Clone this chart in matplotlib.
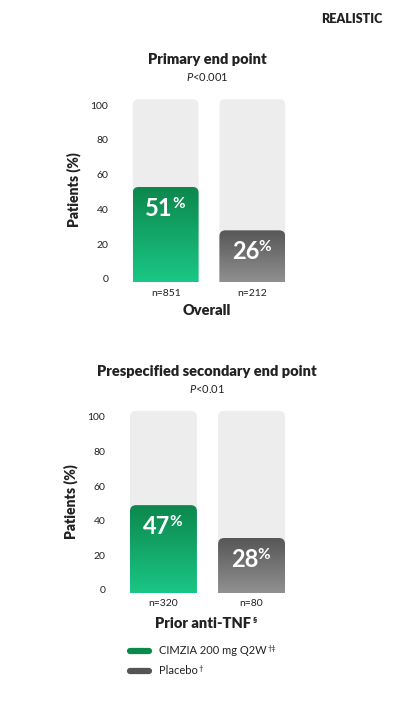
import matplotlib.pyplot as plt
import numpy as np
from matplotlib.patches import FancyBboxPatch
from matplotlib.lines import Line2D

plt.rcParams['font.family'] = ['Lato', 'DejaVu Sans']
plt.rcParams['mathtext.fontset'] = 'custom'
plt.rcParams['mathtext.it'] = 'Lato:italic'
plt.rcParams['mathtext.rm'] = 'Lato'

# Data
groups = ['CIMZIA 200 mg Q2W', 'Placebo']
overall_values = [51, 26]
overall_n = ['n=851', 'n=212']
prior_values = [47, 28]
prior_n = ['n=320', 'n=80']
yticks = [0, 20, 40, 60, 80, 100]

W, H = 394, 701
fig = plt.figure(figsize=(W / 100, H / 100), dpi=100)
fig.patch.set_facecolor('white')

green_top, green_bot = np.array([0.05, 0.53, 0.30]), np.array([0.11, 0.82, 0.56])
grey_top, grey_bot = np.array([0.34, 0.34, 0.34]), np.array([0.63, 0.63, 0.63])
bar_colors = [(green_top, green_bot), (grey_top, grey_bot)]
txt = '#222222'


def fy(y):
    return 1 - y / H


def fx(x):
    return x / W


def sup_after(t, s, size, dy):
    # put a small superscript right after an existing text
    fig.canvas.draw()
    bb = t.get_window_extent()
    fig.text(bb.x1 / W + 0.003, bb.y1 / H - dy / H, s, ha='left', va='top',
             fontsize=size, color=txt, fontweight=t.get_fontweight())


def draw_panel(rect, values, ns):
    ax = fig.add_axes(rect)
    xlim = (-0.55, 1.55)
    ylim = (-1.5, 104)
    px_x = rect[2] * W / (xlim[1] - xlim[0])
    px_y = rect[3] * H / (ylim[1] - ylim[0])
    aspect = px_x / px_y
    width = 0.76
    for i, v in enumerate(values):
        bg = FancyBboxPatch((i - width / 2, -10), width, 113.5,
                            boxstyle='round,pad=0,rounding_size=0.07',
                            mutation_aspect=aspect, fc='#ededed', ec='none', zorder=1)
        ax.add_patch(bg)
        clip = FancyBboxPatch((i - width / 2, -10), width, v + 12,
                              boxstyle='round,pad=0,rounding_size=0.07',
                              mutation_aspect=aspect, fc='none', ec='none')
        ax.add_patch(clip)
        top, bot = bar_colors[i]
        t = np.linspace(0, 1, 100)[:, None, None]
        grad = top[None, None, :] * (1 - t) + bot[None, None, :] * t
        im = ax.imshow(grad, extent=(i - width / 2, i + width / 2, -10, v + 2),
                       aspect='auto', origin='upper', zorder=2, interpolation='bilinear')
        im.set_clip_path(clip)
        ax.annotate(f'{v}', (i, v), xytext=(5, -13), textcoords='offset points',
                    ha='right', va='center', color='white', fontsize=17,
                    fontweight='bold', zorder=3)
        ax.annotate('%', (i, v), xytext=(4.5, -9.5), textcoords='offset points',
                    ha='left', va='center', color='white', fontsize=11,
                    fontweight='bold', zorder=3)
    ax.set_xlim(*xlim)
    ax.set_ylim(*ylim)
    ax.set_yticks(yticks)
    ax.set_yticklabels([str(v) for v in yticks], fontsize=7.5, color=txt)
    ax.set_xticks(range(len(ns)))
    ax.set_xticklabels(ns, fontsize=7.5, color=txt)
    ax.tick_params(length=0, pad=7)
    ax.tick_params(axis='x', pad=5)
    for s in ax.spines.values():
        s.set_visible(False)
    ax.set_ylabel('Patients (%)', fontsize=10, fontweight='heavy', color=txt, labelpad=7)
    return ax


# Top panel
ax1 = draw_panel([fx(118), fy(281.6), fx(300) - fx(118), fy(98.3) - fy(281.6)],
                 overall_values, overall_n)
fig.text(fx(207), fy(60), 'Primary end point', ha='center', va='center',
         fontsize=10.5, fontweight='heavy', color=txt)
fig.text(fx(207), fy(77), r'$\it{P}$<0.001', ha='center', va='center',
         fontsize=8, color=txt)
fig.text(fx(207), fy(311), 'Overall', ha='center', va='center',
         fontsize=10.5, fontweight='heavy', color=txt)

# Bottom panel
ax2 = draw_panel([fx(115), fy(592.5), fx(300) - fx(115), fy(410) - fy(592.5)],
                 prior_values, prior_n)
fig.text(fx(207), fy(372), 'Prespecified secondary end point', ha='center', va='center',
         fontsize=10.5, fontweight='heavy', color=txt)
fig.text(fx(207), fy(389), r'$\it{P}$<0.01', ha='center', va='center',
         fontsize=8, color=txt)
tnf = fig.text(fx(203), fy(623), 'Prior anti-TNF', ha='center', va='center',
               fontsize=10.5, fontweight='heavy', color=txt)
sup_after(tnf, '§', 6, 0)

# Legend
legend_items = [(groups[0], '†‡', '#0a8a4a', 651), (groups[1], '†', '#555555', 671)]
for label, sup, col, y in legend_items:
    fig.add_artist(Line2D([fx(130), fx(149)], [fy(y), fy(y)], lw=4.5, color=col,
                          solid_capstyle='round'))
    t = fig.text(fx(159), fy(y), label, ha='left', va='center', fontsize=8, color=txt)
    sup_after(t, sup, 5.5, 0)

fig.text(fx(352), fy(19), 'REALISTIC', ha='center', va='center', fontsize=9,
         fontweight='heavy', color=txt)

fig.savefig('out.png', dpi=100, facecolor='white')
